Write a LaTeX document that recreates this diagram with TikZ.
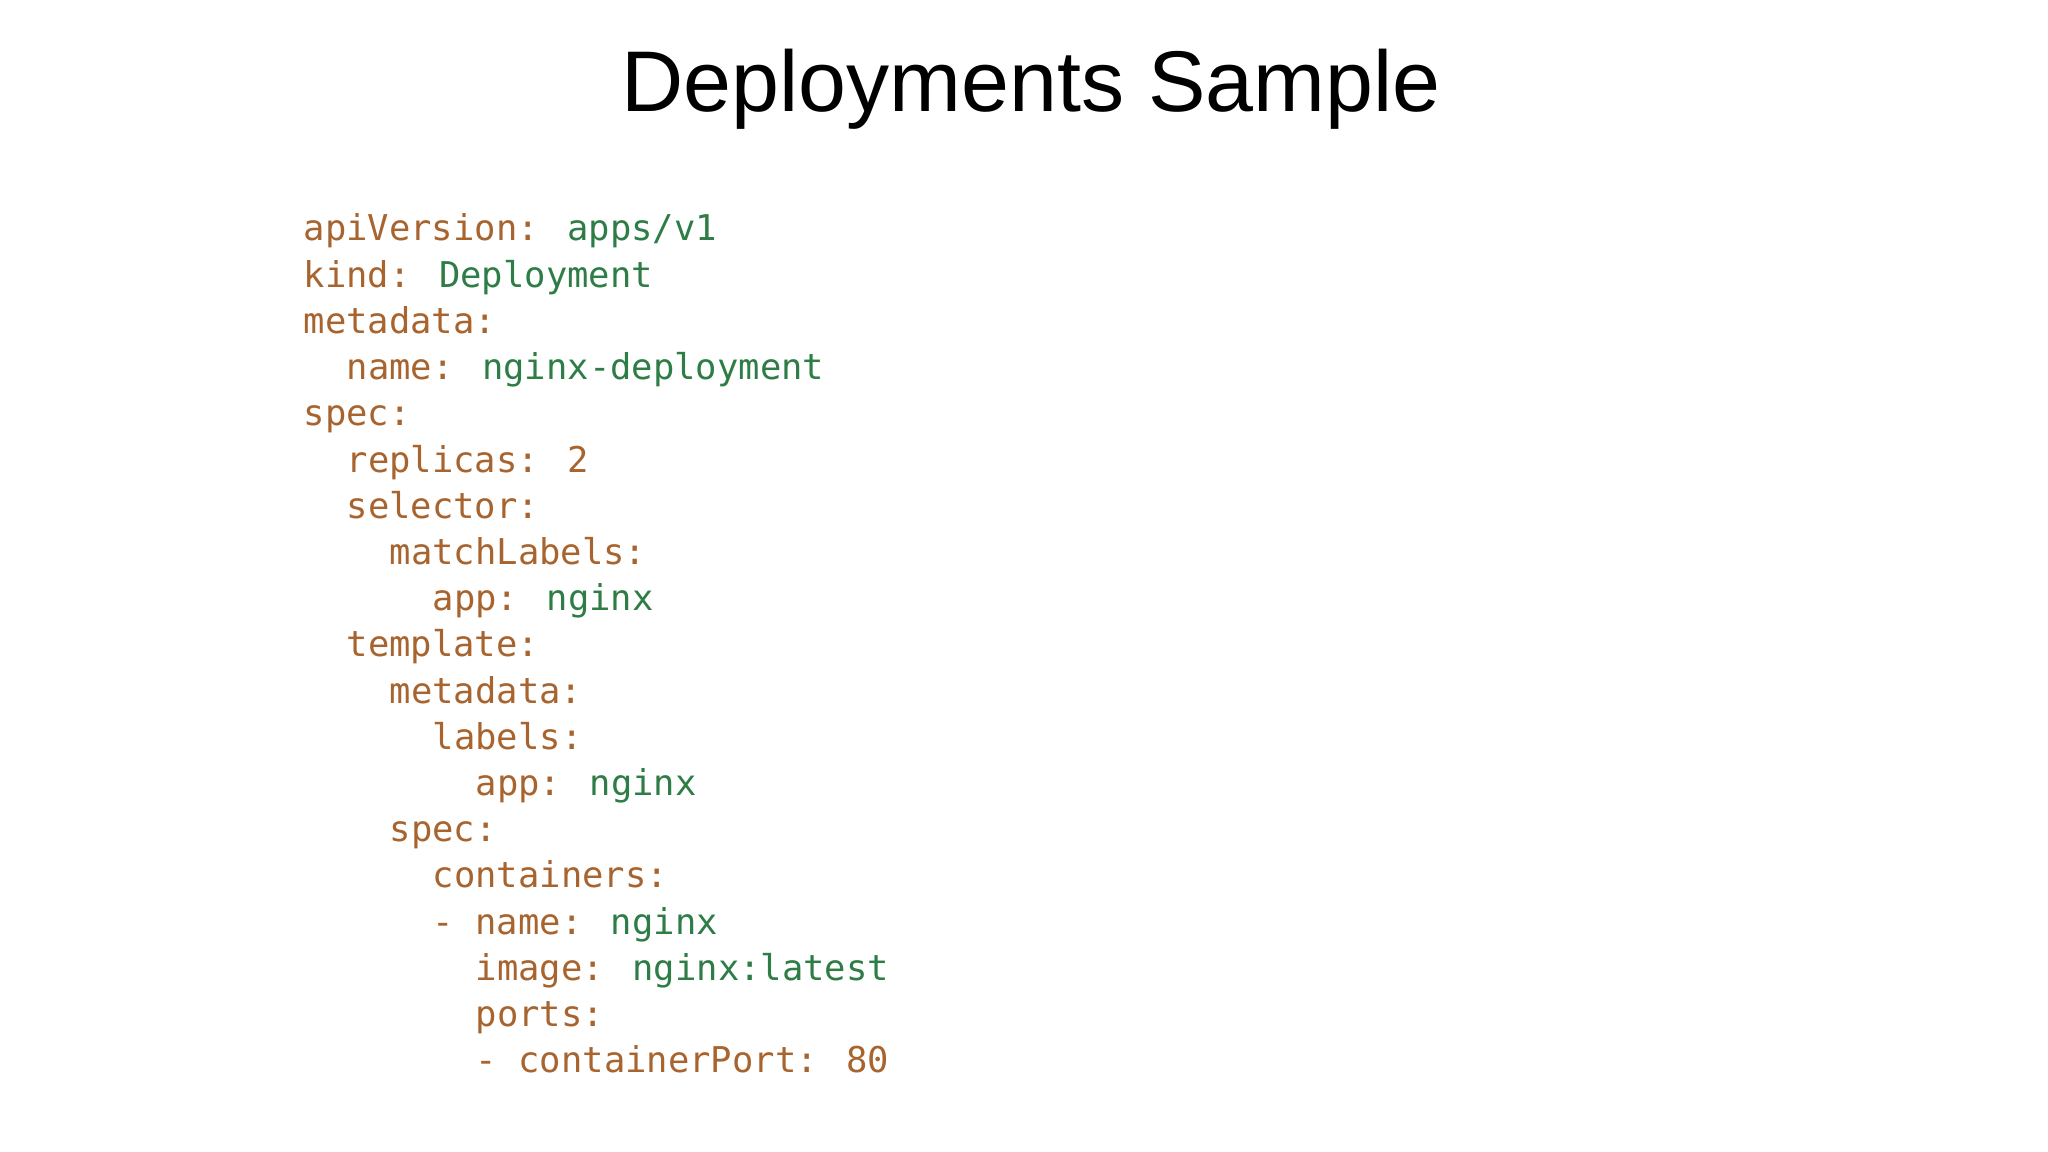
\documentclass[tikz,border=0pt]{standalone}
\usepackage{fontspec}
\setmainfont{Liberation Sans}
\newfontfamily\codefont{DejaVu Sans Mono}
\definecolor{keyc}{HTML}{A8642F}
\definecolor{valc}{HTML}{2E7D46}
\newcommand{\K}[1]{\textcolor{keyc}{#1}}
\newcommand{\V}[1]{\textcolor{valc}{#1}}
\begin{document}
\begin{tikzpicture}[x=0.01cm,y=-0.01cm,
  codeline/.style={anchor=base west,inner sep=0,font=\codefont\fontsize{10.1pt}{12pt}\selectfont},
  titletext/.style={inner sep=0,font=\fontsize{24.5pt}{28pt}\selectfont}]
\useasboundingbox (0,0) rectangle (2048,1152);
\node[titletext] (title) at (1031,89) {Deployments Sample};
\def\b{241}\def\s{46.2}\def\c{21.5}\def\x{303}
\foreach \i/\ind/\t in {
 1/0/{\K{apiVersion:} \V{apps/v1}},
 2/0/{\K{kind:} \V{Deployment}},
 3/0/{\K{metadata:}},
 4/2/{\K{name:} \V{nginx-deployment}},
 5/0/{\K{spec:}},
 6/2/{\K{replicas: 2}},
 7/2/{\K{selector:}},
 8/4/{\K{matchLabels:}},
 9/6/{\K{app:} \V{nginx}},
 10/2/{\K{template:}},
 11/4/{\K{metadata:}},
 12/6/{\K{labels:}},
 13/8/{\K{app:} \V{nginx}},
 14/4/{\K{spec:}},
 15/6/{\K{containers:}},
 16/6/{\K{- name:} \V{nginx}},
 17/8/{\K{image:} \V{nginx:latest}},
 18/8/{\K{ports:}},
 19/8/{\K{- containerPort: 80}}}
 \node[codeline] (l\i) at ({\x+\ind*\c},{\b+(\i-1)*\s}) {\t};
\end{tikzpicture}
\end{document}
